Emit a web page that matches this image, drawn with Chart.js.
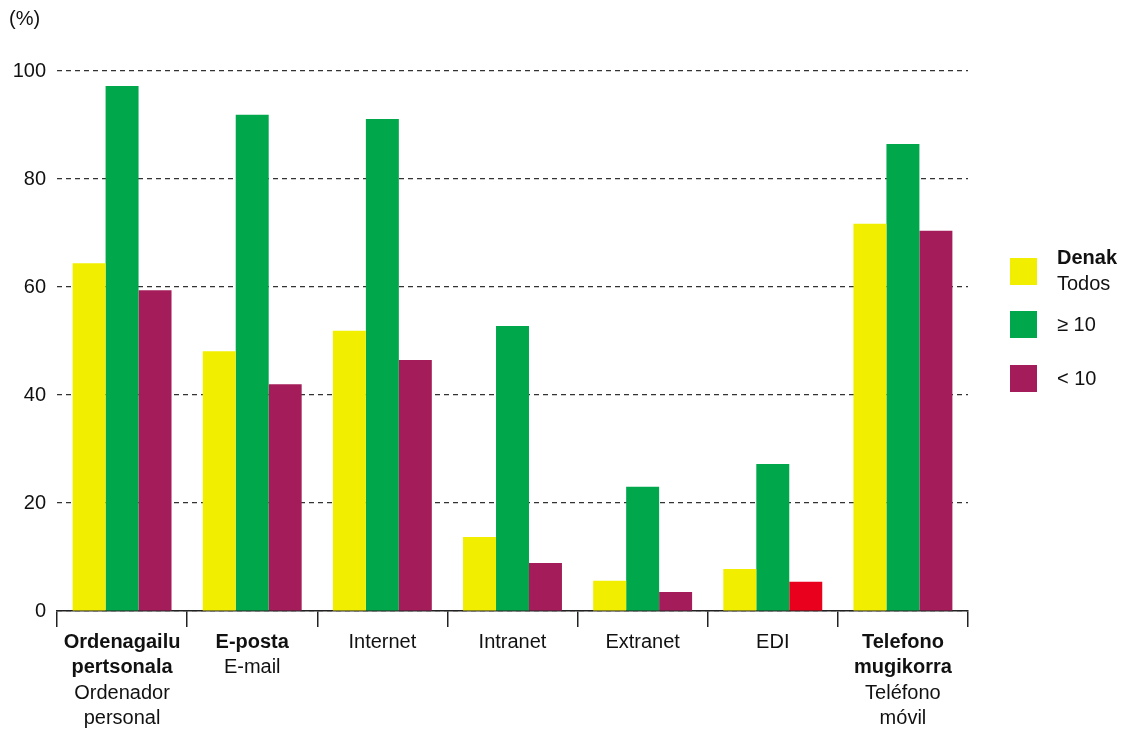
<!DOCTYPE html>
<html>
<head>
<meta charset="utf-8">
<script src="https://cdn.jsdelivr.net/npm/chart.js@4/dist/chart.umd.min.js"></script>
<style>
  html, body { margin: 0; padding: 0; background: #fff; }
  #wrap { width: 1125px; height: 729px; position: relative; }
</style>
</head>
<body>
<div id="wrap"><canvas id="grafikoa" width="1125" height="729"></canvas></div>
<script>
// Kategoriak: lehen lerroa lodiz (euskaraz), bestea arruntez (gaztelaniaz)
const kategoriak = ['Ordenagailu pertsonala', 'E-posta', 'Internet', 'Intranet', 'Extranet', 'EDI', 'Telefono mugikorra'];
const etiketaLodiak = [['Ordenagailu', 'pertsonala'], ['E-posta'], [], [], [], [], ['Telefono', 'mugikorra']];
const etiketaArruntak = [['Ordenador', 'personal'], ['E-mail'], ['Internet'], ['Intranet'], ['Extranet'], ['EDI'], ['Teléfono', 'móvil']];

const denak = [64.4, 48.1, 51.9, 13.7, 5.6, 7.8, 71.7];
const handiak = [97.2, 91.9, 91.1, 52.8, 23.0, 27.2, 86.5];   // ≥ 10
const txikiak = [59.4, 42.0, 46.5, 8.9, 3.5, 5.4, 70.4];      // < 10

const yTicks = [0, 20, 40, 60, 80, 100];

const HORIA = '#f2ee00';
const BERDEA = '#00a84b';
const MOREA = '#a41c59';
const GORRIA = '#e8001c';
const LETRA = '"Liberation Sans", Arial, sans-serif';
const TAMAINA = 20;

// EDI-ren < 10 barra gorriz
const txikienKoloreak = kategoriak.map(k => k === 'EDI' ? GORRIA : MOREA);

// X ardatzeko etiketak: lodia + arrunta, lerroz lerro
const xEtiketak = {
  id: 'xEtiketak',
  afterDraw(chart) {
    const ctx = chart.ctx;
    const x = chart.scales.x;
    ctx.save();
    ctx.fillStyle = '#111';
    ctx.textAlign = 'center';
    ctx.textBaseline = 'middle';
    kategoriak.forEach((k, i) => {
      const cx = x.getPixelForValue(i);
      let y = 642;
      etiketaLodiak[i].forEach(t => {
        ctx.font = 'bold ' + TAMAINA + 'px ' + LETRA;
        ctx.fillText(t, cx, y);
        y += 25.5;
      });
      etiketaArruntak[i].forEach(t => {
        ctx.font = TAMAINA + 'px ' + LETRA;
        ctx.fillText(t, cx, y);
        y += 25.5;
      });
    });
    ctx.restore();
  }
};

// Legenda eskuinean eta (%) goian
const legenda = {
  id: 'legenda',
  afterDraw(chart) {
    const ctx = chart.ctx;
    ctx.save();
    ctx.textBaseline = 'middle';
    ctx.textAlign = 'left';
    ctx.fillStyle = '#111';
    ctx.font = TAMAINA + 'px ' + LETRA;
    ctx.fillText('(%)', 9, 19);

    const sarrerak = [
      { kolorea: HORIA, y: 258, lodia: 'Denak', arrunta: 'Todos' },
      { kolorea: BERDEA, y: 311, arrunta: '≥ 10' },
      { kolorea: MOREA, y: 365, arrunta: '< 10' }
    ];
    sarrerak.forEach(s => {
      ctx.fillStyle = s.kolorea;
      ctx.fillRect(1010, s.y, 27, 27);
      ctx.fillStyle = '#111';
      if (s.lodia) {
        ctx.font = 'bold ' + TAMAINA + 'px ' + LETRA;
        ctx.fillText(s.lodia, 1057, s.y);
        ctx.font = TAMAINA + 'px ' + LETRA;
        ctx.fillText(s.arrunta, 1057, s.y + 26);
      } else {
        ctx.font = TAMAINA + 'px ' + LETRA;
        ctx.fillText(s.arrunta, 1057, s.y + 14);
      }
    });
    ctx.restore();
  }
};

new Chart(document.getElementById('grafikoa'), {
  type: 'bar',
  data: {
    labels: kategoriak,
    datasets: [
      { label: 'Denak', data: denak, backgroundColor: HORIA },
      { label: '≥ 10', data: handiak, backgroundColor: BERDEA },
      { label: '< 10', data: txikiak, backgroundColor: txikienKoloreak }
    ]
  },
  options: {
    responsive: false,
    animation: false,
    layout: { padding: { top: 71, right: 157, left: 0, bottom: 0 } },
    plugins: { legend: { display: false }, tooltip: { enabled: false } },
    datasets: { bar: { barPercentage: 1, categoryPercentage: 0.76 } },
    scales: {
      x: {
        offset: true,
        ticks: { display: false },
        grid: { offset: true, drawOnChartArea: false, color: '#222', lineWidth: 1.5, tickLength: 16 },
        border: { display: true, color: '#222', width: 1.5 },
        afterFit(s) { s.height = 118; }
      },
      y: {
        min: 0,
        max: 100,
        afterBuildTicks(s) { s.ticks = yTicks.map(v => ({ value: v })); },
        ticks: { color: '#111', font: { family: LETRA, size: TAMAINA }, padding: 11 },
        grid: { color: '#333', lineWidth: 1.2, drawTicks: false },
        border: { display: false, dash: [5, 4] },
        afterFit(s) { s.width = 57; }
      }
    }
  },
  plugins: [xEtiketak, legenda]
});
</script>
</body>
</html>
